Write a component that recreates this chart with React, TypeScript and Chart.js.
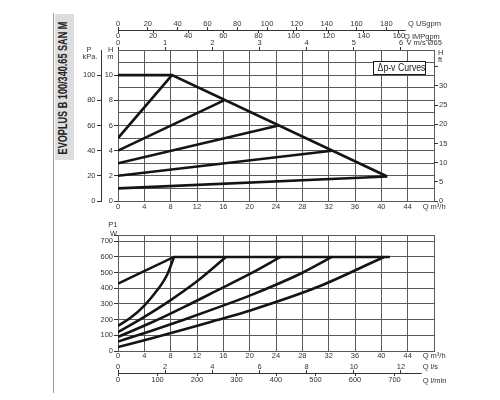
import React, { useEffect, useRef } from 'react';
import { Chart, registerables } from 'chart.js';

Chart.register(...registerables);

// ---------- data ----------
const flowTicks = [0, 4, 8, 12, 16, 20, 24, 28, 32, 36, 40, 44, 48];
const flowLabels = [0, 4, 8, 12, 16, 20, 24, 28, 32, 36, 40, 44];
const headTicks = [0, 1, 2, 3, 4, 5, 6, 7, 8, 9, 10, 11, 12];
const headLabels = [0, 2, 4, 6, 8, 10];
const pressureTicks = [0, 20, 40, 60, 80, 100, 120];
const pressureLabels = [0, 20, 40, 60, 80, 100];
const feetTicks = [0, 5, 10, 15, 20, 25, 30, 35];
const feetLabels = [0, 5, 10, 15, 20, 25, 30];
const usgpmTicks = [0, 20, 40, 60, 80, 100, 120, 140, 160, 180];
const impgpmTicks = [0, 20, 40, 60, 80, 100, 120, 140, 160];
const velocityTicks = [0, 1, 2, 3, 4, 5, 6];
const powerTicks = [0, 100, 200, 300, 400, 500, 600, 700, 740];
const powerLabels = [0, 100, 200, 300, 400, 500, 600, 700];
const litresPerSecondTicks = [0, 2, 4, 6, 8, 10, 12];
const litresPerMinuteTicks = [0, 100, 200, 300, 400, 500, 600, 700];

// head curves: [Q m3/h, H m]
const headMaxCurve = [[0, 10], [8.2, 10], [40.9, 1.95]];
const headCurve1 = [[0, 5], [8.2, 10]];
const headCurve2 = [[0, 4], [16.1, 8]];
const headCurve3 = [[0, 3], [24.4, 6]];
const headCurve4 = [[0, 2], [32.5, 4]];
const headCurve5 = [[0, 1], [40.9, 1.95]];

// power curves: [Q m3/h, P1 W]
const powerMaxCurve = [[0, 430], [8.5, 600], [41.3, 600]];
const powerCurve1 = [[0, 160], [2, 215], [4, 290], [6, 390], [7.5, 490], [8.5, 600]];
const powerCurve2 = [[0, 120], [4, 218], [8, 325], [12, 445], [16.4, 600]];
const powerCurve3 = [[0, 90], [5, 180], [10, 280], [15, 385], [20.1, 493], [24.7, 600]];
const powerCurve4 = [[0, 60], [5, 128], [10, 200], [15, 275], [20.1, 355], [27.7, 493], [32.5, 600]];
const powerCurve5 = [[0, 25], [5, 80], [10, 137], [15, 197], [20.1, 259], [30.3, 408], [40.4, 600]];

// scale ranges (unit conversions of 0..48 m3/h, 0..12 m)
const FLOW_MAX = 48;
const HEAD_MAX = 12;
const PRESSURE_MAX = 120;
const FEET_MAX = 12 * 3.2808;
const USGPM_MAX = 212;
const IMPGPM_MAX = 180;
const VELOCITY_MAX = 6.7;
const POWER_MAX = 740;
const LPS_MAX = 13.4;
const LPM_MAX = 800;

// ---------- style ----------
const FF = "'Liberation Sans', Arial, Helvetica, sans-serif";
const FONT = { family: FF, size: 7.5 };
const TXT = '#333';
const GRID = '#5a5a5a';
const LINE = '#141414';

const pts = (arr: number[][]) => arr.map(([x, y]) => ({ x, y }));

const fixedTicks = (vals: number[]) => (s: any) => {
  s.ticks = vals.map((v) => ({ value: v }));
};
const labelIf = (vals: number[]) => (v: any) => (vals.includes(Number(v)) ? String(v) : '');

function auxAxis(max: number, ticks: number[], yAt: number, tl: number, pad: number) {
  return {
    type: 'linear',
    axis: 'x',
    position: { y: yAt },
    min: 0,
    max,
    afterBuildTicks: fixedTicks(ticks),
    grid: { drawOnChartArea: false, drawTicks: true, tickLength: tl, color: TXT, lineWidth: 1 },
    border: { display: false },
    ticks: { font: FONT, color: TXT, padding: pad, autoSkip: false, maxRotation: 0, callback: (v: any) => String(v) },
  };
}

const auxLines = {
  id: 'auxLines',
  afterDraw(chart: any, _args: any, opts: any) {
    const { ctx } = chart;
    (opts.lines || []).forEach((l: any) => {
      const sx = chart.scales[l.scale];
      const sy = chart.scales.y;
      const y = Math.round(sy.getPixelForValue(l.at)) + 0.5;
      ctx.save();
      ctx.strokeStyle = TXT;
      ctx.lineWidth = 1;
      ctx.beginPath();
      ctx.moveTo(sx.getPixelForValue(0), y);
      ctx.lineTo(sx.getPixelForValue(l.to), y);
      ctx.stroke();
      ctx.restore();
    });
  },
};

const lineDs = (data: number[][], smooth: boolean) => ({
  data: pts(data),
  borderColor: LINE,
  borderWidth: 2.6,
  pointRadius: 0,
  fill: false,
  tension: 0,
  cubicInterpolationMode: smooth ? 'monotone' : 'default',
  xAxisID: 'x',
  yAxisID: 'y',
});

// top chart: plot area 118..434 x 50..201
const TOP_AUX_Y = (201 - 30) / (151 / HEAD_MAX);
const BOT_AUX_Y = -(373 - 351) / (116 / POWER_MAX);

function topConfig(): any {
  return {
    type: 'line',
    data: {
      datasets: [headMaxCurve, headCurve1, headCurve2, headCurve3, headCurve4, headCurve5].map((d) => lineDs(d, false)),
    },
    plugins: [auxLines],
    options: {
      responsive: false,
      animation: false,
      events: [],
      layout: { padding: { left: 70, right: 36, top: 50, bottom: 187 } },
      plugins: {
        legend: { display: false },
        tooltip: { enabled: false },
        auxLines: { lines: [{ scale: 'xUS', at: TOP_AUX_Y, to: 193 }] },
      },
      scales: {
        x: {
          type: 'linear',
          position: 'bottom',
          min: 0,
          max: FLOW_MAX,
          afterBuildTicks: fixedTicks(flowTicks),
          afterFit: (s: any) => { s.height = 12; },
          grid: { color: GRID, lineWidth: 1, drawTicks: false },
          border: { display: true, color: GRID },
          ticks: { font: FONT, color: TXT, padding: 1.2, autoSkip: false, maxRotation: 0, callback: labelIf(flowLabels) },
        },
        y: {
          type: 'linear',
          position: 'left',
          weight: 1,
          min: 0,
          max: HEAD_MAX,
          afterBuildTicks: fixedTicks(headTicks),
          afterFit: (s: any) => { s.width = 17; },
          grid: {
            color: GRID,
            lineWidth: 1,
            tickLength: 4,
            tickColor: (c: any) => (c.tick && headLabels.includes(c.tick.value) ? TXT : 'rgba(0,0,0,0)'),
          },
          border: { display: true, color: GRID },
          ticks: { font: FONT, color: TXT, padding: 1, autoSkip: false, callback: labelIf(headLabels) },
        },
        yKpa: {
          type: 'linear',
          axis: 'y',
          position: 'left',
          weight: 2,
          min: 0,
          max: PRESSURE_MAX,
          afterBuildTicks: fixedTicks(pressureTicks),
          afterFit: (s: any) => { s.width = 31; },
          grid: {
            drawOnChartArea: false,
            tickLength: 4,
            color: (c: any) => (c.tick && pressureLabels.includes(c.tick.value) ? TXT : 'rgba(0,0,0,0)'),
          },
          border: { display: true, color: TXT },
          ticks: { font: FONT, color: TXT, padding: 1.5, autoSkip: false, callback: labelIf(pressureLabels) },
        },
        yFt: {
          type: 'linear',
          axis: 'y',
          position: 'right',
          min: 0,
          max: FEET_MAX,
          afterBuildTicks: fixedTicks(feetTicks),
          afterFit: (s: any) => { s.width = 30; },
          grid: { drawOnChartArea: false, tickLength: 4, color: TXT },
          border: { display: false },
          ticks: { font: FONT, color: TXT, padding: 1, autoSkip: false, callback: labelIf(feetLabels) },
        },
        xUS: auxAxis(USGPM_MAX, usgpmTicks, TOP_AUX_Y, -3, -7.3),
        xIMP: auxAxis(IMPGPM_MAX, impgpmTicks, TOP_AUX_Y, 3, -1.7),
        xV: auxAxis(VELOCITY_MAX, velocityTicks, HEAD_MAX, -3, -8.3),
      },
    },
  };
}

function bottomConfig(): any {
  return {
    type: 'line',
    data: {
      datasets: [
        lineDs(powerMaxCurve, false),
        lineDs(powerCurve1, true),
        lineDs(powerCurve2, true),
        lineDs(powerCurve3, true),
        lineDs(powerCurve4, true),
        lineDs(powerCurve5, true),
      ],
    },
    plugins: [auxLines],
    options: {
      responsive: false,
      animation: false,
      events: [],
      layout: { padding: { left: 90, right: 66, top: 235, bottom: 37 } },
      plugins: {
        legend: { display: false },
        tooltip: { enabled: false },
        auxLines: { lines: [{ scale: 'xLps', at: BOT_AUX_Y, to: 12.88 }] },
      },
      scales: {
        x: {
          type: 'linear',
          position: 'bottom',
          min: 0,
          max: FLOW_MAX,
          afterBuildTicks: fixedTicks(flowTicks),
          afterFit: (s: any) => { s.height = 12; },
          grid: { color: GRID, lineWidth: 1, drawTicks: false },
          border: { display: true, color: GRID },
          ticks: { font: FONT, color: TXT, padding: 0.5, autoSkip: false, maxRotation: 0, callback: labelIf(flowLabels) },
        },
        y: {
          type: 'linear',
          position: 'left',
          min: 0,
          max: POWER_MAX,
          afterBuildTicks: fixedTicks(powerTicks),
          afterFit: (s: any) => { s.width = 28; },
          grid: { color: GRID, lineWidth: 1, tickLength: 4, tickColor: TXT },
          border: { display: true, color: GRID },
          ticks: { font: FONT, color: TXT, padding: 1, autoSkip: false, callback: labelIf(powerLabels) },
        },
        xLps: auxAxis(LPS_MAX, litresPerSecondTicks, BOT_AUX_Y, -3, -7.3),
        xLpm: auxAxis(LPM_MAX, litresPerMinuteTicks, BOT_AUX_Y, 3, -0.5),
      },
    },
  };
}

// ---------- html labels ----------
function Txt(props: { x: number; y: number; children: any; right?: boolean; size?: number; center?: boolean }) {
  const size = props.size || 7.5;
  const lh = Math.round(size * 1.3);
  const style: any = {
    position: 'absolute',
    top: props.y - lh / 2,
    fontSize: size,
    lineHeight: `${lh}px`,
    whiteSpace: 'nowrap',
    color: TXT,
    fontFamily: FF,
  };
  if (props.right) style.right = 500 - props.x;
  else if (props.center) {
    style.left = props.x - 30;
    style.width = 60;
    style.textAlign = 'center';
  } else style.left = props.x;
  return <span style={style}>{props.children}</span>;
}

export default function App() {
  const topRef = useRef<HTMLCanvasElement>(null);
  const botRef = useRef<HTMLCanvasElement>(null);

  useEffect(() => {
    const c1 = new Chart(topRef.current as HTMLCanvasElement, topConfig());
    const c2 = new Chart(botRef.current as HTMLCanvasElement, bottomConfig());
    return () => {
      c1.destroy();
      c2.destroy();
    };
  }, []);

  return (
    <div style={{ position: 'fixed', left: 0, top: 0, width: 500, height: 400, background: '#fff', overflow: 'hidden' }}>
      {/* title strip */}
      <div style={{ position: 'absolute', left: 53, top: 13, width: 1, height: 380, background: '#999' }} />
      <div style={{ position: 'absolute', left: 54.5, top: 13.5, width: 19.5, height: 146, background: '#dddddd' }} />
      <div
        style={{
          position: 'absolute',
          left: 63 - 90,
          top: 87.5 - 8,
          width: 180,
          height: 16,
          lineHeight: '16px',
          textAlign: 'center',
          fontFamily: FF,
          fontWeight: 'bold',
          fontSize: 12,
          color: '#222',
          transform: 'rotate(-90deg) scaleX(0.76)',
          whiteSpace: 'nowrap',
        }}
      >
        EVOPLUS B 100/340.65 SAN M
      </div>

      <canvas ref={topRef} width={500} height={400} style={{ position: 'absolute', left: 0, top: 0 }} />
      <canvas ref={botRef} width={500} height={400} style={{ position: 'absolute', left: 0, top: 0 }} />

      {/* top chart texts */}
      <Txt x={408} y={24}>Q USgpm</Txt>
      <Txt x={404} y={36.5}>Q IMPgpm</Txt>
      <Txt x={406.5} y={43.3}>V m/s Ø65</Txt>
      <Txt x={438} y={52.5}>H</Txt>
      <Txt x={438} y={60}>ft</Txt>
      <Txt x={89} y={50.3} center>P</Txt>
      <Txt x={90} y={57} center>kPa.</Txt>
      <Txt x={113.5} y={50.3} right>H</Txt>
      <Txt x={113.5} y={57.3} right>m</Txt>
      <Txt x={422.7} y={207}>Q m³/h</Txt>
      <div
        style={{
          position: 'absolute',
          left: 373,
          top: 60.5,
          width: 52.5,
          height: 14.5,
          boxSizing: 'border-box',
          border: '1.5px solid #1a1a1a',
          background: '#fff',
          textAlign: 'center',
          lineHeight: '11.5px',
          fontFamily: FF,
          fontSize: 10,
          color: '#1a1a1a',
          whiteSpace: 'nowrap',
          overflow: 'visible',
        }}
      >
        <span style={{ display: 'inline-block', transform: 'scaleX(0.87)' }}>Δp-v Curves</span>
      </div>

      {/* bottom chart texts */}
      <Txt x={117.5} y={225.3} right>P1</Txt>
      <Txt x={117} y={234} right>W</Txt>
      <Txt x={422.7} y={356}>Q m³/h</Txt>
      <Txt x={422.7} y={367.3}>Q l/s</Txt>
      <Txt x={422.7} y={380.5}>Q l/min</Txt>
    </div>
  );
}
